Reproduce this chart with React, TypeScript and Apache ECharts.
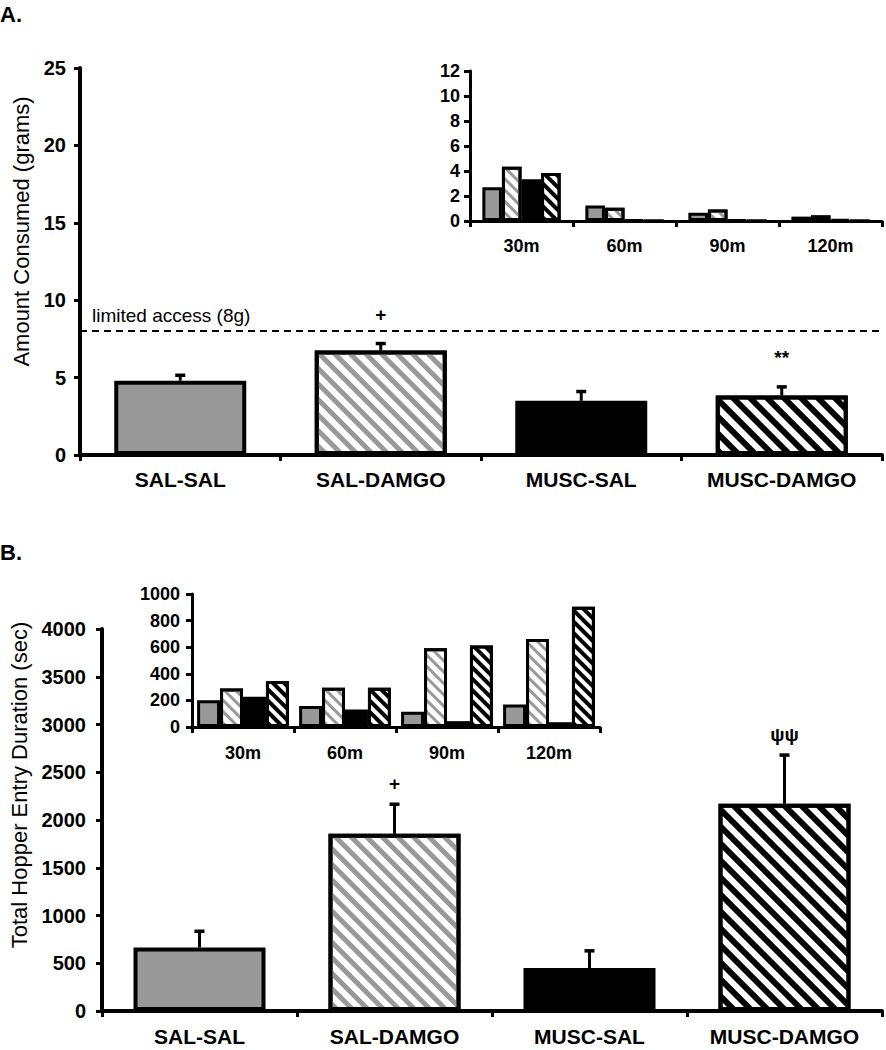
import React, { useEffect, useRef } from "react";
import * as echarts from "echarts";

// ---------- data ----------
const groups = ["SAL-SAL", "SAL-DAMGO", "MUSC-SAL", "MUSC-DAMGO"];
const timeBins = ["30m", "60m", "90m", "120m"];

// Panel A: amount consumed (grams)
const amountMean = [4.8, 6.75, 3.5, 3.85];
const amountErrTop = [5.15, 7.2, 4.1, 4.4];
const amountMarks = ["", "+", "", "**"];
const limitedAccess = 8;
const limitedAccessLabel = "limited access (8g)";

// Panel A inset: amount per time bin
const amtSalSal = [2.7, 1.25, 0.66, 0.35];
const amtSalDamgo = [4.35, 1.06, 0.93, 0.45];
const amtMuscSal = [3.35, 0.1, 0.1, 0.12];
const amtMuscDamgo = [3.85, 0, 0, 0];

// Panel B: total hopper entry duration (sec)
const hopperMean = [665, 1855, 450, 2170];
const hopperErrTop = [835, 2165, 630, 2680];
const hopperMarks = ["", "+", "", "ψψ"];

// Panel B inset: duration per time bin
const hopSalSal = [202, 157, 114, 170];
const hopSalDamgo = [290, 295, 592, 662];
const hopMuscSal = [228, 132, 44, 36];
const hopMuscDamgo = [345, 295, 612, 905];

// ---------- styles ----------
const FONT = 'Arial, "Liberation Sans", Helvetica, sans-serif';
const GRAY = "#999999";

function hatch(color: string, dash: number[]) {
  return {
    symbol: "rect",
    symbolSize: 1,
    dashArrayX: [10, 0],
    dashArrayY: dash,
    rotation: Math.PI / 4,
    color,
    backgroundColor: "#ffffff",
  };
}

function groupStyle(i: number, big: boolean) {
  const bw = big ? 4 : 3;
  const d1 = big ? [5, 6] : [3, 5];
  const d2 = big ? [6, 6] : [4, 4];
  const base: any = { borderColor: "#000", borderWidth: bw };
  if (i === 0) return { ...base, color: GRAY };
  if (i === 1) return { ...base, color: "#fff", decal: hatch(GRAY, d1) };
  if (i === 2) return { ...base, color: "#000" };
  return { ...base, color: "#fff", decal: hatch("#000", d2) };
}

const plain = (v: number) => String(v);

function catAxis(gridIndex: number, data: string[], big: boolean, margin: number) {
  return {
    type: "category",
    gridIndex,
    data,
    axisLine: { show: true, lineStyle: { color: "#000", width: big ? 4 : 3 } },
    axisTick: { show: true, length: 6, lineStyle: { color: "#000", width: 3 } },
    axisLabel: {
      fontFamily: FONT,
      fontWeight: "bold",
      fontSize: big ? 21 : 18,
      color: "#000",
      margin,
    },
    splitLine: { show: false },
  };
}

function valAxis(
  gridIndex: number,
  max: number,
  interval: number,
  big: boolean,
  margin: number,
  name?: string,
  nameGap?: number,
  namePad?: number
) {
  return {
    type: "value",
    gridIndex,
    min: 0,
    max,
    interval,
    axisLine: { show: true, lineStyle: { color: "#000", width: big ? 4 : 3 } },
    axisTick: { show: true, length: 6, lineStyle: { color: "#000", width: 3 } },
    axisLabel: {
      fontFamily: FONT,
      fontWeight: "bold",
      fontSize: big ? 20 : 18,
      color: "#000",
      margin,
      formatter: plain,
    },
    splitLine: { show: false },
    name: name || "",
    nameLocation: "middle",
    nameGap: nameGap || 0,
    nameTextStyle: {
      fontFamily: FONT,
      fontSize: 22,
      color: "#000",
      padding: [0, 0, 0, namePad || 0],
    },
  };
}

function errorSeries(
  axisIndex: number,
  mean: number[],
  top: number[],
  marks: string[],
  markOffset: number
) {
  return {
    type: "custom",
    xAxisIndex: axisIndex,
    yAxisIndex: axisIndex,
    z: 5,
    data: mean.map((m, i) => [i, m, top[i]]),
    encode: { x: 0, y: [1, 2] },
    renderItem: (params: any, api: any) => {
      const i = api.value(0);
      const p0 = api.coord([i, api.value(1)]);
      const p1 = api.coord([i, api.value(2)]);
      const mark = marks[params.dataIndex];
      const children: any[] = [
        {
          type: "line",
          shape: { x1: p0[0], y1: p0[1], x2: p1[0], y2: p1[1] },
          style: { stroke: "#000", lineWidth: 3 },
        },
        {
          type: "line",
          shape: { x1: p1[0] - 5, y1: p1[1], x2: p1[0] + 5, y2: p1[1] },
          style: { stroke: "#000", lineWidth: 3.5 },
        },
      ];
      if (mark) {
        children.push({
          type: "text",
          x: p1[0],
          y: p1[1] - markOffset,
          style: {
            text: mark,
            font: `bold 19px ${FONT}`,
            fill: "#000",
            align: "center",
            verticalAlign: "middle",
            textAlign: "center",
            textVerticalAlign: "middle",
          },
        });
      }
      return { type: "group", children };
    },
  };
}

function mainBars(axisIndex: number, values: number[], barWidth: number, extra: any = {}) {
  return {
    type: "bar",
    xAxisIndex: axisIndex,
    yAxisIndex: axisIndex,
    barWidth,
    z: 3,
    data: values.map((v, i) => ({ value: v, itemStyle: groupStyle(i, true) })),
    ...extra,
  };
}

function insetSeries(axisIndex: number, lists: number[][], catGap: string) {
  return lists.map((vals, g) => ({
    type: "bar",
    name: groups[g],
    xAxisIndex: axisIndex,
    yAxisIndex: axisIndex,
    barGap: "0%",
    barCategoryGap: catGap,
    z: 3,
    itemStyle: groupStyle(g, false),
    data: vals,
  }));
}

export default function App() {
  const ref = useRef<HTMLDivElement>(null);
  useEffect(() => {
    document.body.style.margin = "0";
    if (!ref.current) return;
    const chart = echarts.init(ref.current, undefined, { renderer: "svg" });
    const option: any = {
      animation: false,
      backgroundColor: "#fff",
      textStyle: { fontFamily: FONT },
      grid: [
        { left: 80, right: 4, top: 68, bottom: 595, outerBoundsMode: "none", containLabel: false },
        { left: 470, right: 4, top: 71, bottom: 829, outerBoundsMode: "none", containLabel: false },
        { left: 102, right: 4, top: 629, bottom: 39, outerBoundsMode: "none", containLabel: false },
        { left: 192, right: 286, top: 594, bottom: 323, outerBoundsMode: "none", containLabel: false },
      ],
      xAxis: [
        catAxis(0, groups, true, 14),
        catAxis(1, timeBins, false, 16),
        catAxis(2, groups, true, 15),
        catAxis(3, timeBins, false, 17),
      ],
      yAxis: [
        valAxis(0, 25, 5, true, 14, "Amount Consumed (grams)", 44, 60),
        valAxis(1, 12, 2, false, 10),
        valAxis(2, 4000, 500, true, 16, "Total Hopper Entry Duration (sec)", 67, 70),
        valAxis(3, 1000, 200, false, 12),
      ],
      graphic: [
        {
          type: "text",
          left: 0,
          top: 3,
          style: { text: "A.", font: `bold 22px ${FONT}`, fill: "#000" },
        },
        {
          type: "text",
          left: 0,
          top: 541,
          style: { text: "B.", font: `bold 22px ${FONT}`, fill: "#000" },
        },
      ],
      series: [
        mainBars(0, amountMean, 132, {
          markLine: {
            silent: true,
            symbol: ["none", "none"],
            lineStyle: { color: "#000", type: [7, 5], width: 2 },
            label: {
              show: true,
              position: "insideStartTop",
              formatter: limitedAccessLabel,
              fontFamily: FONT,
              fontSize: 19,
              color: "#000",
              distance: [12, 6],
            },
            data: [{ yAxis: limitedAccess }],
          },
        }),
        errorSeries(0, amountMean, amountErrTop, amountMarks, 29),
        ...insetSeries(1, [amtSalSal, amtSalDamgo, amtMuscSal, amtMuscDamgo], "24%"),
        mainBars(2, hopperMean, 132),
        errorSeries(2, hopperMean, hopperErrTop, hopperMarks, 21),
        ...insetSeries(3, [hopSalSal, hopSalDamgo, hopMuscSal, hopMuscDamgo], "10%"),
      ],
    };
    chart.setOption(option);
    return () => chart.dispose();
  }, []);
  return (
    <div
      ref={ref}
      style={{ position: "absolute", left: 0, top: 0, width: 886, height: 1050 }}
    />
  );
}
